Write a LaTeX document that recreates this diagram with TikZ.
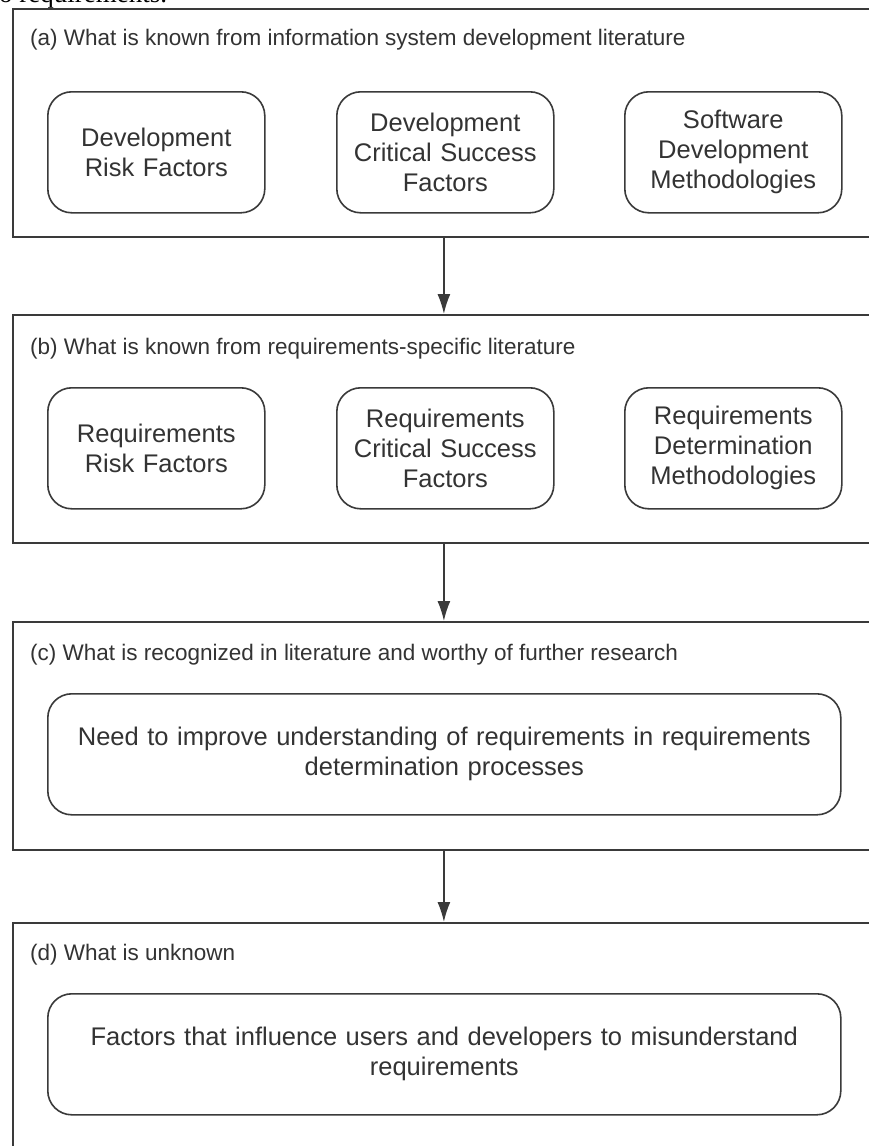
\documentclass[tikz,border=0pt]{standalone}
\usepackage{fontspec}
\setmainfont{Liberation Sans}
\newfontfamily\captionserif{Liberation Serif}
\usetikzlibrary{arrows.meta}

\definecolor{linegray}{HTML}{3A3A3A}
\definecolor{textgray}{HTML}{333333}

\tikzset{
  x=1pt, y=1pt,
  panel/.style={draw=linegray, line width=1.8pt, rectangle, anchor=north west,
    inner sep=0pt, minimum width=862pt, minimum height=228pt},
  paneltitle/.style={anchor=west, inner sep=0pt, text=textgray,
    font=\fontsize{22.5}{26}\selectfont},
  itembox/.style={draw=linegray, line width=1.6pt, rounded corners=24pt,
    anchor=north west, inner sep=0pt, align=center, text=textgray,
    minimum height=121pt, font=\fontsize{25.5}{30}\selectfont},
  smallitem/.style={itembox, minimum width=217pt, text width=205pt},
  wideitem/.style={itembox, minimum width=793pt, text width=785pt},
  flow/.style={draw=linegray, line width=1.6pt,
    -{Latex[length=20pt,width=13pt]}},
}

\begin{document}
\begin{tikzpicture}
  \useasboundingbox (0,0) rectangle (869,-1146);
  \clip (0,0) rectangle (869,-1146);
  \fill[white] (0,0) rectangle (869,-1146);

  % running text of the page above the figure
  \node[anchor=base west, inner sep=0pt, text=black,
        font=\captionserif\fontsize{27}{30}\selectfont] (runtext) at (-1,-2) {o requirements.};

  % (a) development literature
  \node[panel] (A) at (12,-8) {};
  \node[paneltitle] (Atitle) at (30,-40) {(a) What is known from information system development literature};
  \node[smallitem] (A1) at (47,-91) {Development\\Risk Factors};
  \node[smallitem] (A2) at (336,-91) {Development\\Critical Success\\Factors};
  \node[smallitem] (A3) at (624,-91) {Software\\Development\\Methodologies};

  % (b) requirements-specific literature
  \node[panel] (B) at (12,-314) {};
  \node[paneltitle] (Btitle) at (30,-349) {(b) What is known from requirements-specific literature};
  \node[smallitem] (B1) at (47,-387) {Requirements\\Risk Factors};
  \node[smallitem] (B2) at (336,-387) {Requirements\\Critical Success\\Factors};
  \node[smallitem] (B3) at (624,-387) {Requirements\\Determination\\Methodologies};

  % (c) recognized and worthy of research
  \node[panel] (C) at (12,-621) {};
  \node[paneltitle] (Ctitle) at (30,-655) {(c) What is recognized in literature and worthy of further research};
  \node[wideitem] (C1) at (47,-693) {Need to improve understanding of requirements in requirements\\determination processes};

  % (d) unknown
  \node[panel, minimum height=260pt] (D) at (12,-922) {};
  \node[paneltitle] (Dtitle) at (30,-955) {(d) What is unknown};
  \node[wideitem] (D1) at (47,-993) {Factors that influence users and developers to misunderstand\\requirements};

  % connectors between panels
  \draw[flow] (A.south) -- (B.north);
  \draw[flow] (B.south) -- (C.north);
  \draw[flow] (C.south) -- (D.north);
\end{tikzpicture}
\end{document}
